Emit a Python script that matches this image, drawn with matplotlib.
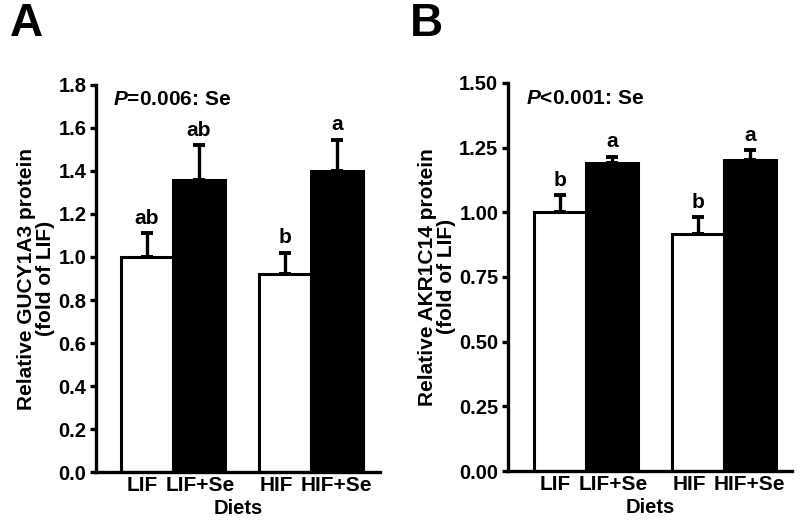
import numpy as np
import matplotlib
matplotlib.use('Agg')
import matplotlib.pyplot as plt

plt.rcParams['font.family'] = ['Liberation Sans', 'DejaVu Sans']
plt.rcParams['font.weight'] = 'bold'
plt.rcParams['mathtext.fontset'] = 'custom'
plt.rcParams['mathtext.it'] = 'Liberation Sans:italic:bold'
plt.rcParams['mathtext.rm'] = 'Liberation Sans:bold'

# Datos
grupos = ['LIF', 'LIF+Se', 'HIF', 'HIF+Se']
colores = ['white', 'black', 'white', 'black']

gucy_media = [1.00, 1.36, 0.92, 1.40]
gucy_error = [0.11, 0.16, 0.10, 0.145]
gucy_letras = ['ab', 'ab', 'b', 'a']

akr_media = [1.00, 1.19, 0.915, 1.20]
akr_error = [0.065, 0.025, 0.065, 0.04]
akr_letras = ['b', 'a', 'b', 'a']

posiciones = [0, 1, 2.65, 3.65]
# las etiquetas de las barras blancas van algo a la izquierda en el original
desplaz_etiq = [-0.1, 0.02, -0.17, 0.0]

fig = plt.figure(figsize=(8, 5.24), dpi=100)


def panel(rect, medias, errores, letras, ylim, yticks, fmt, ylabel, ptexto, ptexto_y, xlim):
    ax = fig.add_axes(rect)
    ax.bar(posiciones, medias, width=1.0, color=colores, edgecolor='black', linewidth=2.2, zorder=2)
    ax.errorbar(posiciones, medias, yerr=[np.zeros(len(errores)), errores], fmt='none',
                ecolor='black', elinewidth=2.4, capsize=4, capthick=2.8, zorder=1)
    for x, m, e, l in zip(posiciones, medias, errores, letras):
        ax.annotate(l, (x, m + e), xytext=(0, 4), textcoords='offset points',
                    ha='center', va='bottom', fontsize=15, fontweight='bold')
    ax.set_ylim(*ylim)
    ax.set_xlim(*xlim)
    ax.set_yticks(yticks)
    ax.set_yticklabels([fmt.format(v) for v in yticks], fontsize=14.5, fontweight='bold')
    ax.set_xticks([p + d for p, d in zip(posiciones, desplaz_etiq)])
    ax.set_xticklabels(grupos, fontsize=15, fontweight='bold')
    ax.tick_params(axis='x', length=0, pad=3)
    ax.tick_params(axis='y', direction='out', length=4, width=2.4, pad=3)
    for s in ['top', 'right']:
        ax.spines[s].set_visible(False)
    for s in ['left', 'bottom']:
        ax.spines[s].set_linewidth(2.4)
        ax.spines[s].set_capstyle('projecting')
    ax.set_ylabel(ylabel, fontsize=15, fontweight='bold', linespacing=1.0, labelpad=2)
    ax.set_xlabel('Diets', fontsize=14.5, fontweight='bold', labelpad=3)
    ax.text(-0.65, ptexto_y, ptexto, fontsize=15, fontweight='bold', va='center', ha='left')
    return ax


axA = panel([0.12, 0.099, 0.355, 0.739], gucy_media, gucy_error, gucy_letras,
            (0, 1.8), np.round(np.arange(0, 1.81, 0.2), 1), '{:.1f}',
            'Relative GUCY1A3 protein\n(fold of LIF)', '$P$=0.006: Se', 1.73, (-0.98, 4.48))
axB = panel([0.635, 0.101, 0.355, 0.741], akr_media, akr_error, akr_letras,
            (0, 1.5), np.arange(0, 1.51, 0.25), '{:.2f}',
            'Relative AKR1C14 protein\n(fold of LIF)', '$P$<0.001: Se', 1.44, (-1.0, 4.46))

fig.text(0.012, 0.955, 'A', fontsize=33, fontweight='bold', va='center', ha='left')
fig.text(0.512, 0.955, 'B', fontsize=33, fontweight='bold', va='center', ha='left')

fig.savefig('out.png', dpi=100)
